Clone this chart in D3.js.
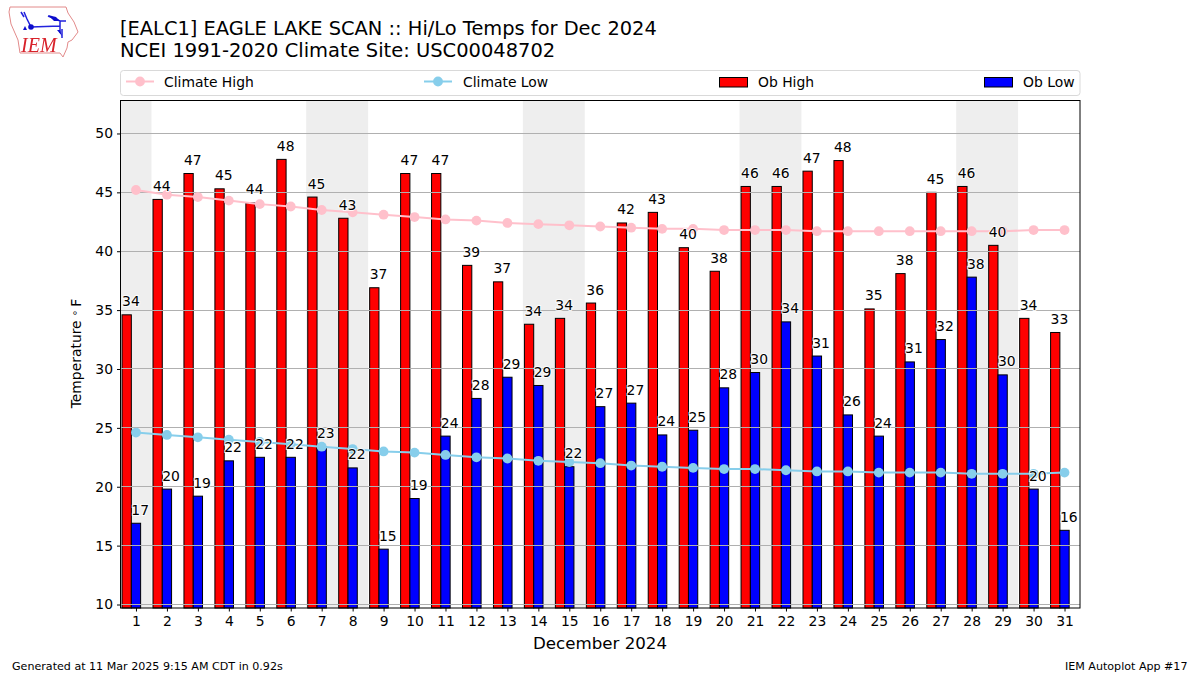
<!DOCTYPE html>
<html><head><meta charset="utf-8">
<script src="https://cdn.jsdelivr.net/npm/d3@7"></script>
<style>html,body{margin:0;padding:0;background:#fff}svg{display:block}text{font-family:"DejaVu Sans",sans-serif}</style>
</head><body><svg id="c" width="1200" height="675"></svg>
<script>
const days = d3.range(1, 32);
const obHigh = [34.6,44.4,46.6,45.3,44.1,47.8,44.6,42.8,36.9,46.6,46.6,38.8,37.4,33.8,34.3,35.6,42.4,43.3,40.3,38.3,45.5,45.5,46.8,47.7,35.1,38.1,45.0,45.5,40.5,34.3,33.1];
const obLow = [16.9,19.8,19.2,22.2,22.5,22.5,23.4,21.6,14.7,19.0,24.3,27.5,29.3,28.6,21.7,26.8,27.1,24.4,24.8,28.4,29.7,34.0,31.1,26.1,24.3,30.6,32.5,37.8,29.5,19.8,16.3];
const highLabels = [34,44,47,45,44,48,45,43,37,47,47,39,37,34,34,36,42,43,40,38,46,46,47,48,35,38,45,46,40,34,33];
const lowLabels = [17,20,19,22,22,22,23,22,15,19,24,28,29,29,22,27,27,24,25,28,30,34,31,26,24,31,32,38,30,20,16];
const climHigh = [45.2,44.8,44.6,44.3,44.0,43.8,43.5,43.3,43.1,42.9,42.7,42.6,42.4,42.3,42.2,42.1,42.0,41.9,41.9,41.8,41.8,41.8,41.7,41.7,41.7,41.7,41.7,41.7,41.7,41.8,41.8];
const climLow = [24.6,24.4,24.2,24.0,23.8,23.6,23.4,23.2,23.0,22.9,22.7,22.5,22.4,22.2,22.1,22.0,21.8,21.7,21.6,21.5,21.5,21.4,21.3,21.3,21.2,21.2,21.2,21.1,21.1,21.1,21.2];
const weekends = [[0.5,1.5],[6.5,8.5],[13.5,15.5],[20.5,22.5],[27.5,29.5]];
const yTicks = [10,15,20,25,30,35,40,45,50];

const L=120.5,R=1080,T=100.5,B=608;
const x=d3.scaleLinear().domain([0.5,31.5]).range([L,R]);
const y=d3.scaleLinear().domain([9.703,52.80]).range([B,T]);
const barW=x(0.3)-x(0);
const svg=d3.select("#c");

// logo
const defs=svg.append("defs");
defs.append("filter").attr("id","soft").append("feGaussianBlur").attr("stdDeviation",0.35);
const logo=svg.append("g").attr("fill","none").attr("filter","url(#soft)");
logo.append("path").attr("d","M10 7 L66 7 L68 13 L74 22 L78 32 L72 40 L68 42 L67 48 L63 57 L60 53 L20 53 L18 40 L11 24 L9 12 Z").attr("stroke","#e28a8a").attr("stroke-width",1);
logo.append("path").attr("d","M21 12 L24 17 M24 12 L27 19 L31 27 L60 26 M48 16 L60 21 L66 21 M60 21 L60 33 M62 29 L62 38").attr("stroke","#2020dd").attr("stroke-width",1.5);
logo.append("circle").attr("cx",31).attr("cy",27).attr("r",2.8).attr("fill","#1111cc");
logo.append("path").attr("d","M48 15 L56 17 L60 21 L54 21 Z").attr("fill","#1111cc");
logo.append("path").attr("d","M23 30 L25 26 L27 30 Z M57 30 L60 30 L62 36 Z").attr("fill","#1111cc");
logo.append("text").attr("x",21).attr("y",52).attr("font-size",20).style("font-family","Liberation Serif").attr("font-style","italic").attr("fill","#d8202a").text("IEM");

// titles
svg.append("text").attr("x",120).attr("y",35).attr("font-size",19.42).attr("fill","#000").text("[EALC1] EAGLE LAKE SCAN :: Hi/Lo Temps for Dec 2024");
svg.append("text").attr("x",120).attr("y",57).attr("font-size",19.48).attr("fill","#000").text("NCEI 1991-2020 Climate Site: USC00048702");

// legend
svg.append("rect").attr("x",120.5).attr("y",70.5).attr("width",959.5).attr("height",25).attr("rx",3).attr("fill","#fff").attr("stroke","#d9d9d9");
const leg=[{x:126,tx:164,t:"Climate High",c:"pink",k:"l"},{x:424,tx:463,t:"Climate Low",c:"skyblue",k:"l"},{x:719,tx:758,t:"Ob High",c:"red",k:"b"},{x:984,tx:1023,t:"Ob Low",c:"blue",k:"b"}];
leg.forEach(d=>{
  if(d.k==="l"){
    svg.append("line").attr("x1",d.x).attr("x2",d.x+28).attr("y1",81.5).attr("y2",81.5).attr("stroke",d.c).attr("stroke-width",2);
    svg.append("circle").attr("cx",d.x+14).attr("cy",81.5).attr("r",4.9).attr("fill",d.c);
  } else {
    svg.append("rect").attr("x",d.x+.5).attr("y",77.5).attr("width",28).attr("height",9.5).attr("fill",d.c).attr("stroke","#000").attr("stroke-width",1);
  }
  svg.append("text").attr("x",d.tx).attr("y",86.5).attr("font-size",13.9).attr("fill","#000").text(d.t);
});

// weekend bands
svg.append("g").selectAll("rect").data(weekends).join("rect")
  .attr("x",d=>x(d[0])).attr("width",d=>x(d[1])-x(d[0])).attr("y",T).attr("height",B-T).attr("fill","#eeeeee");

// bars
const bars=svg.append("g").attr("stroke","#000").attr("stroke-width",1);
bars.selectAll(".h").data(days).join("rect").attr("class","h").attr("fill","red")
  .attr("x",d=>x(d-0.45)).attr("width",barW).attr("y",(d,i)=>y(obHigh[i])).attr("height",(d,i)=>B-y(obHigh[i]));
bars.selectAll(".l").data(days).join("rect").attr("class","l").attr("fill","blue")
  .attr("x",d=>x(d-0.15)).attr("width",barW).attr("y",(d,i)=>y(obLow[i])).attr("height",(d,i)=>B-y(obLow[i]));

// grid
svg.append("g").selectAll("line").data(yTicks).join("line")
  .attr("x1",L).attr("x2",R).attr("y1",d=>Math.floor(y(d))+.5).attr("y2",d=>Math.floor(y(d))+.5)
  .attr("stroke","#b0b0b0").attr("stroke-width",1);

// climate lines
[[climHigh,"pink"],[climLow,"skyblue"]].forEach(([arr,c])=>{
  svg.append("path").attr("d",d3.line().x((d,i)=>x(days[i])).y(d=>y(d))(arr)).attr("fill","none").attr("stroke",c).attr("stroke-width",2);
  svg.append("g").selectAll("circle").data(arr).join("circle").attr("cx",(d,i)=>x(days[i])).attr("cy",d=>y(d)).attr("r",4.9).attr("fill",c);
});

// value labels with white halo
const labels=svg.append("g").attr("font-size",13.9).attr("fill","#000").attr("stroke","#fff").attr("stroke-width",2).attr("stroke-opacity",0.85).style("paint-order","stroke");
labels.selectAll(".a").data(days).join("text").attr("class","a").attr("x",d=>x(d-0.45)).attr("y",(d,i)=>y(obHigh[i])-8.5).text((d,i)=>highLabels[i]);
labels.selectAll(".b").data(days).join("text").attr("class","b").attr("x",d=>x(d-0.15)).attr("y",(d,i)=>y(obLow[i])-8.5).text((d,i)=>lowLabels[i]);

// frame + axes
svg.append("rect").attr("x",L).attr("y",T).attr("width",R-L).attr("height",B-T).attr("fill","none").attr("stroke","#000").attr("stroke-width",1);
const ax=svg.append("g").attr("transform",`translate(0,${B})`).call(d3.axisBottom(x).tickValues(days).tickSize(3.5).tickPadding(4.5).tickFormat(d3.format("d")));
const ay=svg.append("g").attr("transform",`translate(${L},0)`).call(d3.axisLeft(y).tickValues(yTicks).tickSize(3.5).tickPadding(4));
[ax,ay].forEach(a=>{a.select(".domain").remove();a.selectAll("text").attr("font-size",13.9).attr("fill","#000").style("font-family",'"DejaVu Sans"');a.selectAll("line").attr("stroke","#000");});

svg.append("text").attr("x",600).attr("y",649).attr("text-anchor","middle").attr("font-size",16.67).text("December 2024");
const yl=svg.append("text").attr("transform","translate(81,353.5) rotate(-90)").attr("text-anchor","middle").attr("font-size",13.9);
yl.append("tspan").text("Temperature ");
yl.append("tspan").attr("dy",-3).attr("font-size",10).text("∘");
yl.append("tspan").attr("dy",3).attr("dx",3).text("F");
svg.append("text").attr("x",12).attr("y",670).attr("font-size",11.1).text("Generated at 11 Mar 2025 9:15 AM CDT in 0.92s");
svg.append("text").attr("x",1187.5).attr("y",670).attr("text-anchor","end").attr("font-size",11.1).text("IEM Autoplot App #17");
</script></body></html>
